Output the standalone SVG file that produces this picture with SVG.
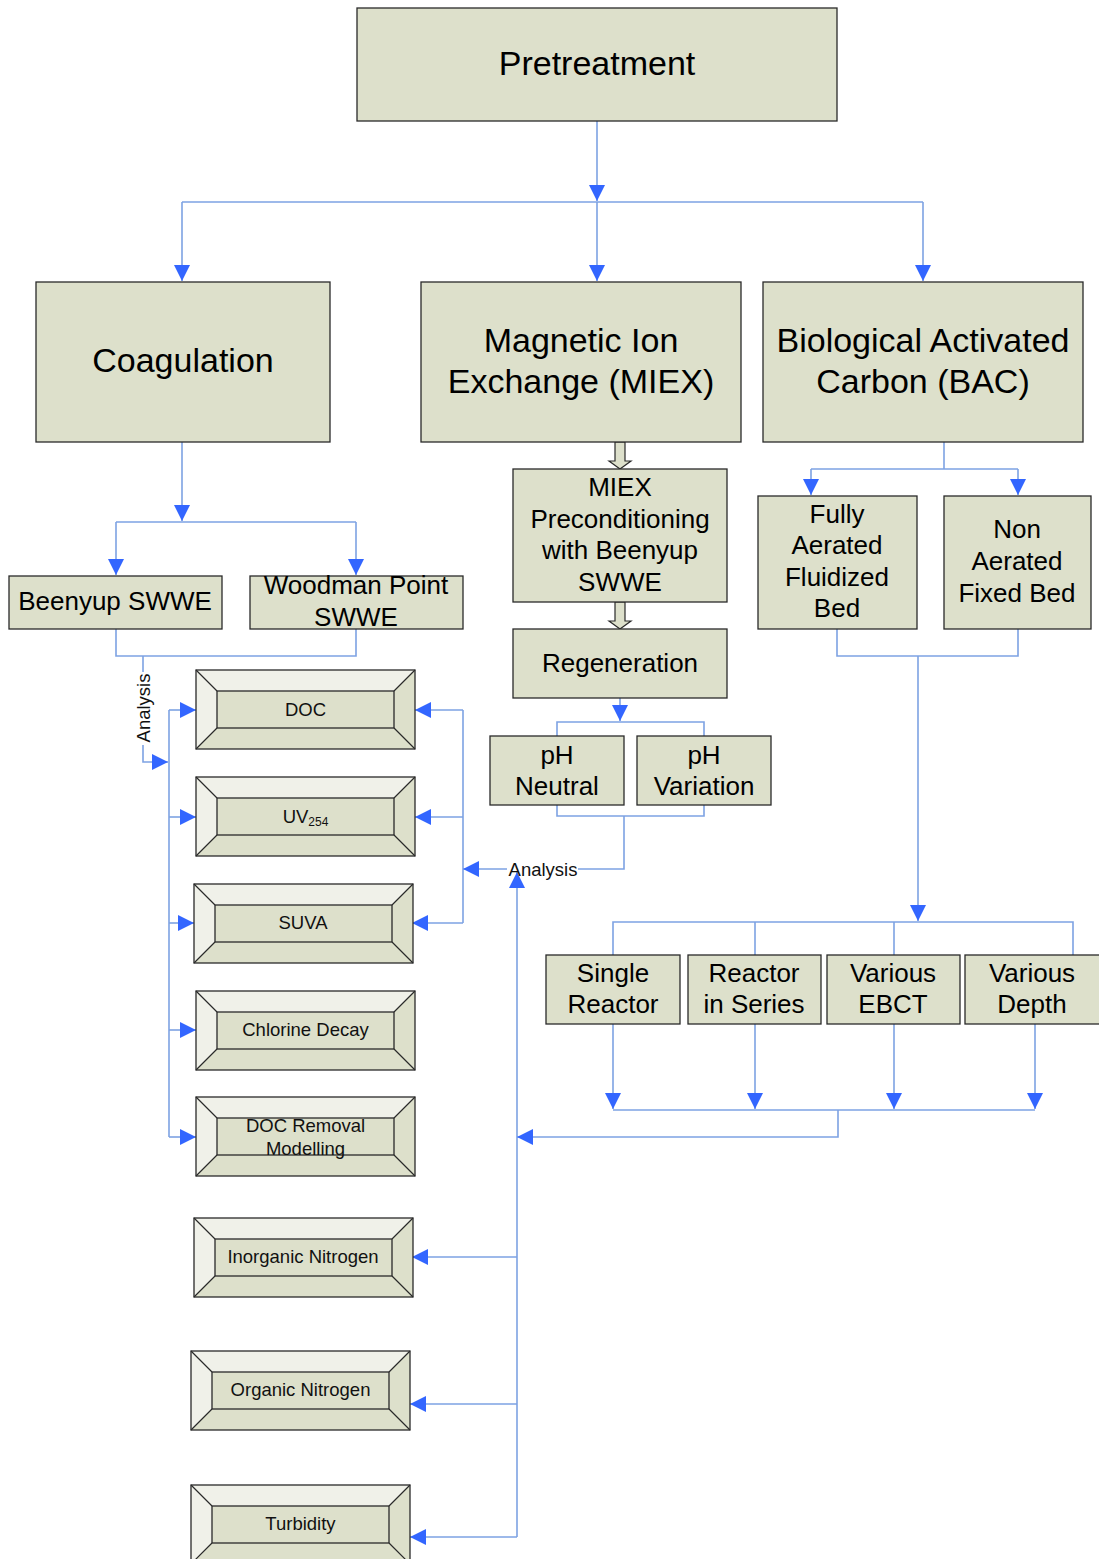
<svg xmlns="http://www.w3.org/2000/svg" xmlns:xlink="http://www.w3.org/1999/xlink" width="1099" height="1559" viewBox="0 0 1099 1559">
  <style>
    .box { fill: #dde0cb; stroke: #2a2a2a; stroke-width: 1.3; }
    .t34 { font-family: "Liberation Sans", Arial, sans-serif; font-size: 34px; fill: #000; text-anchor: middle; }
    .t26 { font-family: "Liberation Sans", Arial, sans-serif; font-size: 26px; fill: #000; text-anchor: middle; }
    .t18 { font-family: "Liberation Sans", Arial, sans-serif; font-size: 18.5px; fill: #111; text-anchor: middle; }
    .sub { font-size: 12px; }
    .conn { fill: none; stroke: #7da2e3; stroke-width: 1.6; }
    .arr { marker-end: url(#head); }
    .block { fill: #dde0cb; stroke: #2a2a2a; stroke-width: 1.2; }
  </style>
  <defs>
    <marker id="head" viewBox="0 0 16 16" refX="16" refY="8" markerWidth="16" markerHeight="16" markerUnits="userSpaceOnUse" orient="auto">
      <path d="M0,0 L16,8 L0,16 z" fill="#3366ff"/>
    </marker>
    <!-- bevelled frame, 219 x 79, inset 21 -->
    <g id="bevel">
      <rect x="0" y="0" width="219" height="79" fill="#dde0cb"/>
      <polygon points="0,0 219,0 198,21 21,21 21,58 0,79" fill="#f0f1e9"/>
      <rect x="21" y="21" width="177" height="37" fill="#dde0cb" stroke="#2a2a2a" stroke-width="1.3"/>
      <path d="M0,0 L21,21 M219,0 L198,21 M0,79 L21,58 M219,79 L198,58" stroke="#2a2a2a" stroke-width="1.2" fill="none"/>
      <rect x="0" y="0" width="219" height="79" fill="none" stroke="#2a2a2a" stroke-width="1.3"/>
    </g>
  </defs>

  <rect x="0" y="0" width="1099" height="1559" fill="#ffffff"/>

  <!-- connectors -->
  <g id="connectors">
    <!-- Pretreatment to the three processes -->
    <path class="conn arr" d="M597,121 V201"/>
    <path class="conn" d="M182,202 H923"/>
    <path class="conn arr" d="M182,202 V281"/>
    <path class="conn arr" d="M597,202 V281"/>
    <path class="conn arr" d="M923,202 V281"/>

    <!-- Coagulation branch -->
    <path class="conn arr" d="M182,442 V521"/>
    <path class="conn" d="M116,522 H356"/>
    <path class="conn arr" d="M116,522 V575"/>
    <path class="conn arr" d="M356,522 V575"/>
    <path class="conn" d="M116,629 V656 H356 V629"/>
    <path class="conn" d="M143,656 V672"/>
    <path class="conn arr" d="M143,745 V762 H168"/>

    <!-- left analysis bus -->
    <path class="conn" d="M169,710 V1137"/>
    <path class="conn arr" d="M169,710 H196"/>
    <path class="conn arr" d="M169,817 H196"/>
    <path class="conn arr" d="M169,923 H194"/>
    <path class="conn arr" d="M169,1030 H196"/>
    <path class="conn arr" d="M169,1137 H196"/>

    <!-- right analysis bus -->
    <path class="conn" d="M463,710 V923"/>
    <path class="conn arr" d="M463,710 H415"/>
    <path class="conn arr" d="M463,817 H415"/>
    <path class="conn arr" d="M463,923 H412"/>

    <!-- MIEX branch -->
    <path class="conn arr" d="M620,698 V721"/>
    <path class="conn" d="M557,736 V722 H704 V736"/>
    <path class="conn" d="M557,805 V816 H704 V805"/>
    <path class="conn" d="M624,816 V869 H578"/>
    <path class="conn arr" d="M507,869 H463"/>

    <!-- shared upward bus -->
    <path class="conn arr" d="M517,1537 V872"/>
    <path class="conn arr" d="M517,1257 H412"/>
    <path class="conn arr" d="M517,1404 H410"/>
    <path class="conn arr" d="M517,1537 H410"/>

    <!-- BAC branch -->
    <path class="conn" d="M944,442 V469"/>
    <path class="conn" d="M811,469 H1018"/>
    <path class="conn arr" d="M811,469 V495"/>
    <path class="conn arr" d="M1018,469 V495"/>
    <path class="conn" d="M837,629 V656 H1018 V629"/>
    <path class="conn arr" d="M918,656 V921"/>
    <path class="conn" d="M613,955 V922 H1073 V955"/>
    <path class="conn" d="M755,922 V955"/>
    <path class="conn" d="M894,922 V955"/>
    <path class="conn arr" d="M613,1024 V1109"/>
    <path class="conn arr" d="M755,1024 V1109"/>
    <path class="conn arr" d="M894,1024 V1109"/>
    <path class="conn arr" d="M1035,1024 V1109"/>
    <path class="conn" d="M613,1110 H1035"/>
    <path class="conn arr" d="M838,1110 V1137 H517"/>

    <!-- block arrows in MIEX column -->
    <path class="block" d="M615,442 H625 V461 H631 L620,469 L609,461 H615 Z"/>
    <path class="block" d="M615,602 H625 V621 H631 L620,629 L609,621 H615 Z"/>

    <!-- connector labels -->
    <text class="t18" transform="translate(150,708) rotate(-90)" x="0" y="0">Analysis</text>
    <text class="t18" x="543" y="876">Analysis</text>
  </g>

  <!-- process nodes -->
  <g id="pretreatment">
    <rect class="box" x="357" y="8" width="480" height="113"/>
    <text class="t34" x="597" y="75">Pretreatment</text>
  </g>
  <g id="coagulation">
    <rect class="box" x="36" y="282" width="294" height="160"/>
    <text class="t34" x="183" y="372">Coagulation</text>
  </g>
  <g id="miex">
    <rect class="box" x="421" y="282" width="320" height="160"/>
    <text class="t34" x="581" y="352">Magnetic Ion</text>
    <text class="t34" x="581" y="393">Exchange (MIEX)</text>
  </g>
  <g id="bac">
    <rect class="box" x="763" y="282" width="320" height="160"/>
    <text class="t34" x="923" y="352">Biological Activated</text>
    <text class="t34" x="923" y="393">Carbon (BAC)</text>
  </g>

  <g id="beenyup">
    <rect class="box" x="9" y="576" width="213" height="53"/>
    <text class="t26" x="115" y="610">Beenyup SWWE</text>
  </g>
  <g id="woodman">
    <rect class="box" x="250" y="576" width="213" height="53"/>
    <text class="t26" x="356" y="594">Woodman Point</text>
    <text class="t26" x="356" y="626">SWWE</text>
  </g>

  <g id="miex-precond">
    <rect class="box" x="513" y="469" width="214" height="133"/>
    <text class="t26" x="620" y="496">MIEX</text>
    <text class="t26" x="620" y="528">Preconditioning</text>
    <text class="t26" x="620" y="559">with Beenyup</text>
    <text class="t26" x="620" y="591">SWWE</text>
  </g>
  <g id="regeneration">
    <rect class="box" x="513" y="629" width="214" height="69"/>
    <text class="t26" x="620" y="672">Regeneration</text>
  </g>
  <g id="ph-neutral">
    <rect class="box" x="490" y="736" width="134" height="69"/>
    <text class="t26" x="557" y="764">pH</text>
    <text class="t26" x="557" y="795">Neutral</text>
  </g>
  <g id="ph-variation">
    <rect class="box" x="637" y="736" width="134" height="69"/>
    <text class="t26" x="704" y="764">pH</text>
    <text class="t26" x="704" y="795">Variation</text>
  </g>

  <g id="fully-aerated">
    <rect class="box" x="758" y="496" width="159" height="133"/>
    <text class="t26" x="837" y="523">Fully</text>
    <text class="t26" x="837" y="554">Aerated</text>
    <text class="t26" x="837" y="586">Fluidized</text>
    <text class="t26" x="837" y="617">Bed</text>
  </g>
  <g id="non-aerated">
    <rect class="box" x="944" y="496" width="147" height="133"/>
    <text class="t26" x="1017" y="538">Non</text>
    <text class="t26" x="1017" y="570">Aerated</text>
    <text class="t26" x="1017" y="602">Fixed Bed</text>
  </g>

  <g id="single-reactor">
    <rect class="box" x="546" y="955" width="134" height="69"/>
    <text class="t26" x="613" y="982">Single</text>
    <text class="t26" x="613" y="1013">Reactor</text>
  </g>
  <g id="reactor-series">
    <rect class="box" x="688" y="955" width="133" height="69"/>
    <text class="t26" x="754" y="982">Reactor</text>
    <text class="t26" x="754" y="1013">in Series</text>
  </g>
  <g id="various-ebct">
    <rect class="box" x="827" y="955" width="133" height="69"/>
    <text class="t26" x="893" y="982">Various</text>
    <text class="t26" x="893" y="1013">EBCT</text>
  </g>
  <g id="various-depth">
    <rect class="box" x="965" y="955" width="136" height="69"/>
    <text class="t26" x="1032" y="982">Various</text>
    <text class="t26" x="1032" y="1013">Depth</text>
  </g>

  <!-- analysis parameter nodes -->
  <g id="doc">
    <use xlink:href="#bevel" href="#bevel" x="196" y="670"/>
    <text class="t18" x="305.5" y="715.5">DOC</text>
  </g>
  <g id="uv254">
    <use xlink:href="#bevel" href="#bevel" x="196" y="777"/>
    <text class="t18" x="305.5" y="822.5">UV<tspan class="sub" dy="3">254</tspan></text>
  </g>
  <g id="suva">
    <use xlink:href="#bevel" href="#bevel" x="194" y="884"/>
    <text class="t18" x="303" y="929">SUVA</text>
  </g>
  <g id="chlorine-decay">
    <use xlink:href="#bevel" href="#bevel" x="196" y="991"/>
    <text class="t18" x="305.5" y="1036">Chlorine Decay</text>
  </g>
  <g id="doc-removal">
    <use xlink:href="#bevel" href="#bevel" x="196" y="1097"/>
    <text class="t18" x="305.5" y="1131.5">DOC Removal</text>
    <text class="t18" x="305.5" y="1154.5">Modelling</text>
  </g>
  <g id="inorganic-nitrogen">
    <use xlink:href="#bevel" href="#bevel" x="194" y="1218"/>
    <text class="t18" x="303" y="1263">Inorganic Nitrogen</text>
  </g>
  <g id="organic-nitrogen">
    <use xlink:href="#bevel" href="#bevel" x="191" y="1351"/>
    <text class="t18" x="300.5" y="1396">Organic Nitrogen</text>
  </g>
  <g id="turbidity">
    <use xlink:href="#bevel" href="#bevel" x="191" y="1485"/>
    <text class="t18" x="300.5" y="1530">Turbidity</text>
  </g>
</svg>
